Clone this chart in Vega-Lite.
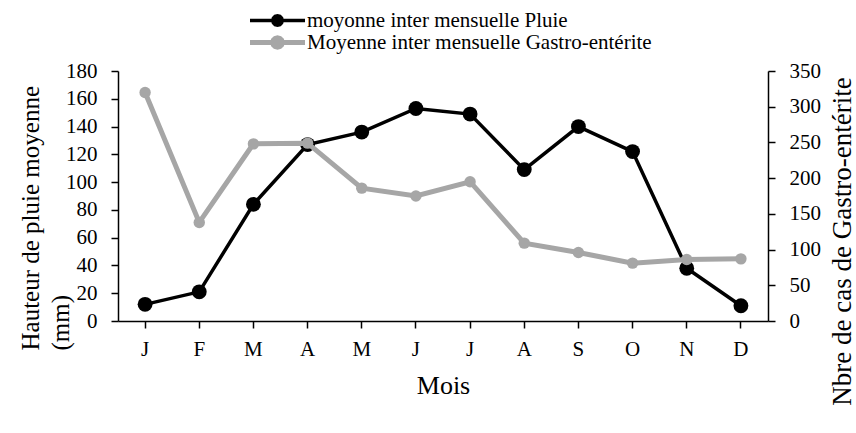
{
  "$schema": "https://vega.github.io/schema/vega-lite/v6.json",
  "width": 650,
  "height": 250,
  "autosize": {"type": "none"},
  "padding": {"left": 118, "top": 71, "right": 88, "bottom": 112},
  "background": "white",
  "config": {
    "font": "Liberation Serif",
    "view": {"stroke": null},
    "axis": {"grid": false, "domainColor": "#000000", "domainWidth": 1.5, "tickColor": "#000000", "tickWidth": 1.5, "tickSize": 7, "labelColor": "#000000", "titleColor": "#000000", "labelFont": "Liberation Serif", "titleFont": "Liberation Serif", "titleFontWeight": "normal"},
    "legend": {"labelFont": "Liberation Serif", "labelColor": "#000000"}
  },
  "data": {
    "values": [
      {"mois": "Janvier", "pluie": 12, "gastro": 320},
      {"mois": "Février", "pluie": 21, "gastro": 138},
      {"mois": "Mars", "pluie": 84, "gastro": 248},
      {"mois": "Avril", "pluie": 127, "gastro": 249},
      {"mois": "Mai", "pluie": 136, "gastro": 186},
      {"mois": "Juin", "pluie": 153, "gastro": 175},
      {"mois": "Juillet", "pluie": 149, "gastro": 195},
      {"mois": "Août", "pluie": 109, "gastro": 109},
      {"mois": "Septembre", "pluie": 140, "gastro": 96},
      {"mois": "Octobre", "pluie": 122, "gastro": 81},
      {"mois": "Novembre", "pluie": 38, "gastro": 86},
      {"mois": "Décembre", "pluie": 11, "gastro": 87}
    ]
  },
  "encoding": {
    "x": {
      "field": "mois",
      "type": "nominal",
      "sort": null,
      "scale": {"type": "band", "paddingInner": 0, "paddingOuter": 0, "domain": ["Janvier","Février","Mars","Avril","Mai","Juin","Juillet","Août","Septembre","Octobre","Novembre","Décembre"]},
      "axis": {
        "title": "Mois",
        "titleFontSize": 26,
        "titleY": 72,
        "titleBaseline": "alphabetic",
        "labelExpr": "substring(datum.label,0,1)",
        "labelAngle": 0,
        "labelFontSize": 21,
        "labelPadding": 10,
        "labelBaseline": "top"
      }
    }
  },
  "layer": [
    {
      "mark": {"type": "line", "strokeWidth": 3.5, "point": {"filled": true, "size": 220, "opacity": 1}},
      "encoding": {
        "y": {
          "field": "pluie",
          "type": "quantitative",
          "scale": {"domain": [0, 180], "nice": false},
          "axis": {
            "orient": "left",
            "values": [0,20,40,60,80,100,120,140,160,180],
            "labelFontSize": 21,
            "labelPadding": 14,
            "title": ["Hauteur de pluie moyenne", "(mm)"],
            "titleFontSize": 25,
            "titleAngle": -90,
            "titleAlign": "left",
            "titleBaseline": "alphabetic",
            "titleLineHeight": 30,
            "titleX": -80,
            "titleY": 279
          }
        },
        "color": {
          "datum": "moyonne inter mensuelle Pluie",
          "type": "nominal",
          "scale": {"domain": ["moyonne inter mensuelle Pluie", "Moyenne inter mensuelle Gastro-entérite"], "range": ["#000000", "#A6A6A6"]},
          "legend": {
            "title": null,
            "orient": "none",
            "legendX": 131.5,
            "legendY": -61,
            "padding": 0,
            "rowPadding": 0,
            "clipHeight": 21,
            "symbolSize": 100,
            "symbolOffset": 17.5,
            "symbolStrokeWidth": 0,
            "symbolType": "M-5.5,0L5.5,0M0.95,0L0.823,0.475L0.475,0.823L0,0.95L-0.475,0.823L-0.823,0.475L-0.95,0L-0.823,-0.475L-0.475,-0.823L0,-0.95L0.475,-0.823L0.823,-0.475Z",
            "labelFontSize": 21,
            "labelOffset": 19,
            "labelLimit": 500,
            "symbolOpacity": 1,
            "encode": {
              "symbols": {
                "update": {
                  "fill": {"scale": "color", "field": "value"},
                  "stroke": {"scale": "color", "field": "value"},
                  "strokeWidth": {"signal": "datum.value == 'moyonne inter mensuelle Pluie' ? 3.5 : 5"},
                  "opacity": {"value": 1},
                  "fillOpacity": {"value": 1}
                }
              }
            }
          }
        }
      }
    },
    {
      "mark": {"type": "line", "strokeWidth": 5, "point": {"filled": true, "size": 130, "opacity": 1}},
      "encoding": {
        "y": {
          "field": "gastro",
          "type": "quantitative",
          "scale": {"domain": [0, 350], "nice": false},
          "axis": {
            "orient": "right",
            "values": [0,50,100,150,200,250,300,350],
            "labelFontSize": 21,
            "labelPadding": 14,
            "title": "Nbre de cas de Gastro-entérite",
            "titleFontSize": 27,
            "titleAngle": -90,
            "titleAlign": "center",
            "titleBaseline": "alphabetic",
            "titleX": 82,
            "titleY": 170
          }
        },
        "color": {"datum": "Moyenne inter mensuelle Gastro-entérite", "type": "nominal"}
      }
    }
  ],
  "resolve": {"scale": {"y": "independent"}}
}
